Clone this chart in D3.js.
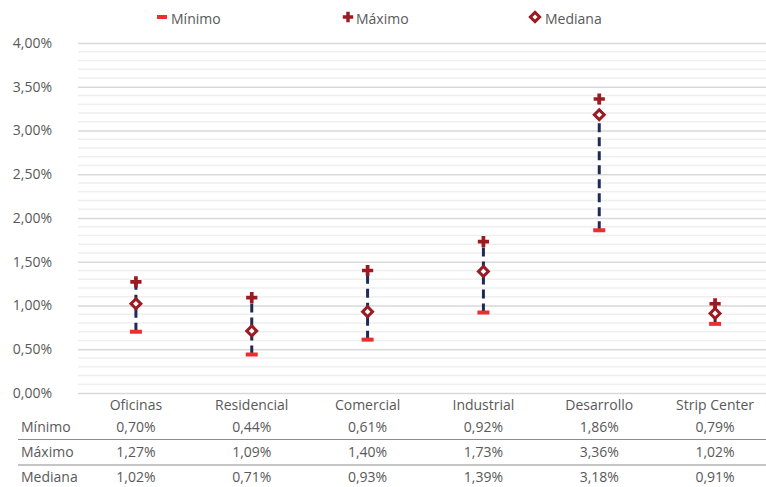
<!DOCTYPE html>
<html>
<head>
<meta charset="utf-8">
<script src="https://cdn.jsdelivr.net/npm/d3@7/dist/d3.min.js"></script>
<style>
  html, body { margin: 0; padding: 0; background: #fff; }
  svg { display: block; font-family: "Open Sans", sans-serif; }
</style>
</head>
<body>
<svg id="chart" width="766" height="487"></svg>
<script>
// Rangos de tasa por segmento
const categories = ["Oficinas", "Residencial", "Comercial", "Industrial", "Desarrollo", "Strip Center"];
const minimo  = [0.70, 0.44, 0.61, 0.92, 1.86, 0.79];
const maximo  = [1.27, 1.09, 1.40, 1.73, 3.36, 1.02];
const mediana = [1.02, 0.71, 0.93, 1.39, 3.18, 0.91];
const yTicks  = [0, 0.5, 1, 1.5, 2, 2.5, 3, 3.5, 4];
const seriesNames = ["Mínimo", "Máximo", "Mediana"];

const fmt = v => v.toFixed(2).replace(".", ",") + "%";

const svg = d3.select("#chart");
const textColor = "#595959";
const minColor = "#ee2e2e";
const maxColor = "#9c1a22";
const medColor = "#9c1a22";
const lineColor = "#1e2b55";

const x = d3.scaleBand().domain(categories).range([78, 773]);
const y = d3.scaleLinear().domain([0, 4]).range([393, 43]);

// Líneas de cuadrícula: secundarias cada 0,1 y principales cada 0,5
const minorTicks = d3.range(0, 41).map(i => i / 10).filter(v => Math.round(v * 10) % 5 !== 0);
svg.append("g").selectAll("line").data(minorTicks).join("line")
  .attr("x1", 78).attr("x2", 766)
  .attr("y1", d => y(d)).attr("y2", d => y(d))
  .attr("stroke", "#efefef").attr("stroke-width", 1.5);

const yAxis = d3.axisLeft(y).tickValues(yTicks).tickFormat(fmt).tickSize(-688).tickPadding(26);
const gy = svg.append("g").attr("transform", "translate(78,0)").call(yAxis);
gy.select(".domain").remove();
gy.selectAll(".tick line").attr("stroke", "#d9d9d9").attr("stroke-width", 1.5);
gy.selectAll(".tick text").attr("fill", textColor).attr("font-size", 14)
  .attr("font-family", "Open Sans, sans-serif");

// Rango entre mínimo y máximo
const g = svg.append("g");
g.selectAll("line.range").data(categories).join("line")
  .attr("class", "range")
  .attr("x1", d => x(d) + x.bandwidth() / 2).attr("x2", d => x(d) + x.bandwidth() / 2)
  .attr("y1", (d, i) => y(minimo[i])).attr("y2", (d, i) => y(maximo[i]))
  .attr("stroke", lineColor).attr("stroke-width", 3).attr("stroke-dasharray", "9,5");

// Mínimo: barra horizontal
g.selectAll("rect.min").data(categories).join("rect")
  .attr("class", "min")
  .attr("x", d => x(d) + x.bandwidth() / 2 - 6).attr("y", (d, i) => y(minimo[i]) - 2)
  .attr("width", 12).attr("height", 4).attr("fill", minColor);

// Máximo: cruz
const cross = d3.symbol().type(d3.symbolCross).size(70);
g.selectAll("path.max").data(categories).join("path")
  .attr("class", "max")
  .attr("d", cross)
  .attr("transform", (d, i) => `translate(${x(d) + x.bandwidth() / 2},${y(maximo[i])})`)
  .attr("fill", maxColor);

// Mediana: rombo hueco
g.selectAll("rect.med").data(categories).join("rect")
  .attr("class", "med")
  .attr("x", -3.5).attr("y", -3.5).attr("width", 7).attr("height", 7)
  .attr("transform", (d, i) => `translate(${x(d) + x.bandwidth() / 2},${y(mediana[i])}) rotate(45)`)
  .attr("fill", "#fff").attr("stroke", medColor).attr("stroke-width", 3);

// Leyenda
const legend = svg.append("g");
legend.append("rect").attr("x", 157).attr("y", 15).attr("width", 10).attr("height", 4).attr("fill", minColor);
legend.append("path").attr("d", d3.symbol().type(d3.symbolCross).size(60))
  .attr("transform", "translate(348,17)").attr("fill", maxColor);
legend.append("rect").attr("x", -3.3).attr("y", -3.3).attr("width", 6.6).attr("height", 6.6)
  .attr("transform", "translate(535,17) rotate(45)")
  .attr("fill", "#fff").attr("stroke", medColor).attr("stroke-width", 3);
const legendX = [171, 356, 545];
legend.selectAll("text").data(seriesNames).join("text")
  .attr("x", (d, i) => legendX[i]).attr("y", 24)
  .attr("fill", textColor).attr("font-size", 14).text(d => d);

// Etiquetas de categoría
svg.append("g").selectAll("text").data(categories).join("text")
  .attr("x", d => x(d) + x.bandwidth() / 2).attr("y", 410)
  .attr("text-anchor", "middle").attr("fill", textColor).attr("font-size", 14)
  .text(d => d);

// Tabla de datos
const rows = [minimo, maximo, mediana];
const rowY = [432, 457, 482];
const table = svg.append("g");
seriesNames.forEach((name, r) => {
  table.append("text").attr("x", 21).attr("y", rowY[r])
    .attr("fill", textColor).attr("font-size", 14).text(name);
  table.selectAll(null).data(categories).join("text")
    .attr("x", d => x(d) + x.bandwidth() / 2).attr("y", rowY[r])
    .attr("text-anchor", "middle").attr("fill", textColor).attr("font-size", 14)
    .text((d, i) => fmt(rows[r][i]));
});
[439.5, 465].forEach(yy => {
  table.append("line").attr("x1", 18).attr("x2", 766).attr("y1", yy).attr("y2", yy)
    .attr("stroke", "#8c8c8c").attr("stroke-width", 1.2);
});
</script>
</body>
</html>
